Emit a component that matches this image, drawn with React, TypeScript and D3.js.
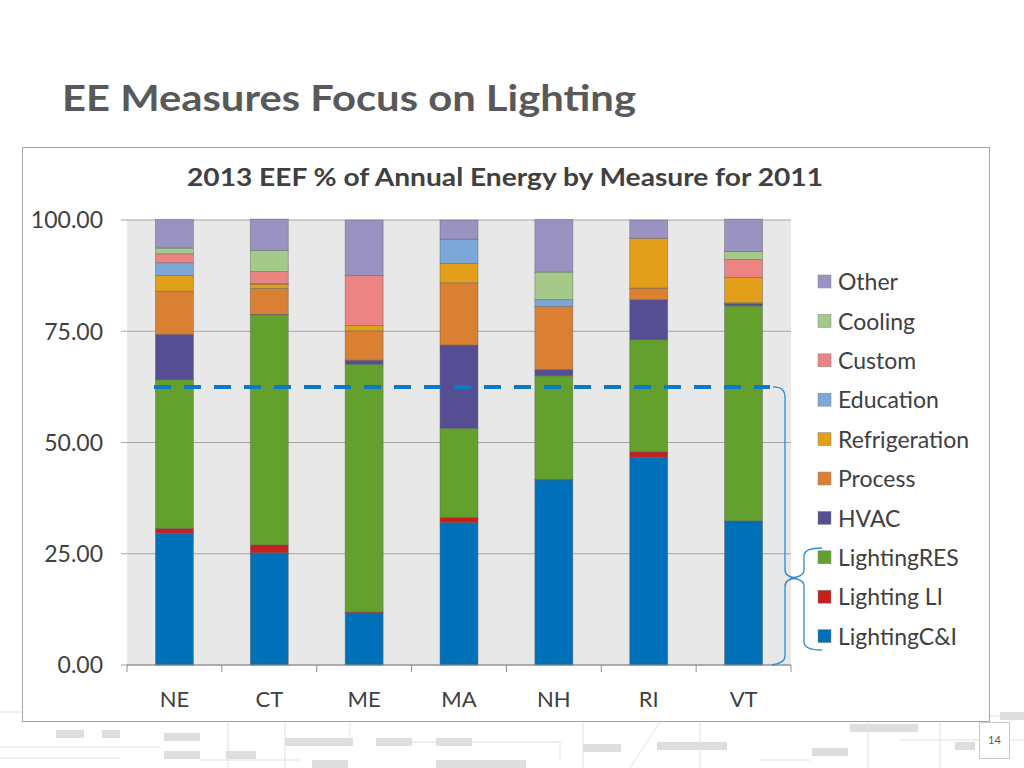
import React from "react";
import { scaleBand, scaleLinear, scaleOrdinal, stack } from "d3";

const regions = ["NE", "CT", "ME", "MA", "NH", "RI", "VT"];
const measures = [
    "LightingC&I",
    "Lighting LI",
    "LightingRES",
    "HVAC",
    "Process",
    "Refrigeration",
    "Education",
    "Custom",
    "Cooling",
    "Other",
];
const measureColors = [
    "#0070b8",
    "#c4201c",
    "#64a02e",
    "#554e92",
    "#da8032",
    "#e19f1a",
    "#7ca7d8",
    "#ec8484",
    "#a4c98a",
    "#9a93c1",
];

// share of annual energy per region, one array per measure
const lightingCI = [29.6, 25.2, 11.7, 32.0, 41.6, 46.7, 32.4];
const lightingLI = [1.1, 1.8, 0.2, 1.2, 0.1, 1.2, 0.0];
const lightingRES = [33.4, 51.7, 55.7, 20.0, 23.3, 25.2, 48.3];
const hvac = [10.2, 0.1, 0.9, 18.7, 1.4, 9.0, 0.5];
const process = [9.7, 5.8, 6.6, 14.0, 14.2, 2.6, 0.2];
const refrigeration = [3.5, 1.0, 1.2, 4.3, 0.0, 11.2, 5.7];
const education = [2.9, 0.1, 0.0, 5.5, 1.5, 0.0, 0.0];
const custom = [2.0, 2.7, 11.2, 0.0, 0.0, 0.0, 4.0];
const cooling = [1.3, 4.8, 0.0, 0.0, 6.2, 0.0, 1.8];
const other = [6.4, 7.0, 12.5, 4.3, 11.8, 4.1, 7.3];

const series = [lightingCI, lightingLI, lightingRES, hvac, process, refrigeration, education, custom, cooling, other];
const yTicks = [0, 25, 50, 75, 100];
const lightingShare = 62.5;

const rows = regions.map((region, i) => {
    const row: Record<string, number | string> = { region };
    measures.forEach((m, j) => (row[m] = series[j][i]));
    return row;
});

const font = "Lato, 'Open Sans', sans-serif";
const textGray = "#404040";

export default function App() {
    const margin = { left: 127, right: 791, top: 220, bottom: 665 };

    const x = scaleBand<string>().domain(regions).range([margin.left, margin.right]).paddingInner(0.6).paddingOuter(0.3);
    const band = scaleBand<string>().domain(regions).range([margin.left, margin.right]);
    const y = scaleLinear().domain([0, 100]).range([margin.bottom, margin.top]);
    const color = scaleOrdinal<string, string>().domain(measures).range(measureColors);

    const layers = stack<Record<string, number | string>>().keys(measures)(rows as any);

    const legendItems = [...measures].reverse();

    return (
        <div style={{ position: "fixed", left: 0, top: 0, width: 1024, height: 768, background: "#fff" }}>
            <svg width={1024} height={768} style={{ display: "block", fontFamily: font }}>
                {/* background circuit decoration */}
                <g fill="#dedede" stroke="none">
                    <rect x={56} y={730} width={28} height={8} />
                    <rect x={102} y={730} width={18} height={8} />
                    <rect x={164} y={733} width={36} height={8} />
                    <rect x={164} y={751} width={36} height={8} />
                    <rect x={226} y={751} width={30} height={8} />
                    <rect x={285} y={738} width={68} height={8} />
                    <rect x={376} y={738} width={36} height={8} />
                    <rect x={436} y={738} width={36} height={8} />
                    <rect x={312} y={760} width={36} height={8} />
                    <rect x={436} y={760} width={90} height={8} />
                    <rect x={583} y={744} width={38} height={8} />
                    <rect x={657} y={742} width={70} height={8} />
                    <rect x={812} y={748} width={36} height={8} />
                    <rect x={850} y={724} width={68} height={8} />
                    <rect x={955} y={742} width={20} height={8} />
                    <rect x={1000} y={712} width={24} height={8} />
                </g>
                <g stroke="#e0e0e0" strokeWidth={1} fill="none">
                    <path d="M0,747 H160 M0,758 H120 M0,712 H22 M200,760 H300 M228,722 V768 M285,722 V768 M350,722 V740 M412,742 H436 M470,742 H560 V760 M583,722 V768 M660,722 L630,768 M700,722 V768 M760,760 H810 M868,722 V768 M900,740 H979 M940,722 V768 M990,716 H1024 M1010,740 H1024" />
                </g>

                {/* page title */}
                <text x={62} y={111} fontSize={37} fontWeight={700} fill="#595959" textLength={574} lengthAdjust="spacingAndGlyphs">
                    EE Measures Focus on Lighting
                </text>

                {/* chart frame */}
                <rect x={22.5} y={147.5} width={967} height={574} fill="#fff" stroke="#a6a6a6" strokeWidth={1} />
                <text x={505} y={186} fontSize={24} fontWeight={700} fill={textGray} textAnchor="middle" textLength={636} lengthAdjust="spacingAndGlyphs">
                    2013 EEF % of Annual Energy by Measure for 2011
                </text>

                {/* plot area */}
                <rect x={margin.left} y={margin.top} width={margin.right - margin.left} height={margin.bottom - margin.top} fill="#e8e8e8" />
                {yTicks.map((t) => (
                    <g key={t}>
                        <line x1={margin.left - 6} x2={margin.right} y1={y(t)} y2={y(t)} stroke="#a6a6a6" strokeWidth={1.2} />
                        <text x={103} y={y(t)} dy="0.36em" fontSize={23} fill={textGray} textAnchor="end">
                            {t.toFixed(2)}
                        </text>
                    </g>
                ))}

                {/* stacked bars */}
                {layers.map((layer) => (
                    <g key={layer.key} fill={color(layer.key)} stroke="#5f5f5f" strokeOpacity={0.55} strokeWidth={0.8}>
                        {layer.map((d, i) =>
                            d[1] - d[0] > 0 ? (
                                <rect
                                    key={i}
                                    x={x(regions[i])}
                                    y={y(d[1])}
                                    width={x.bandwidth()}
                                    height={y(d[0]) - y(d[1])}
                                />
                            ) : null
                        )}
                    </g>
                ))}

                {/* x axis */}
                <line x1={margin.left} x2={margin.right} y1={margin.bottom} y2={margin.bottom} stroke="#8c8c8c" strokeWidth={1.2} />
                {regions.map((r) => (
                    <g key={r}>
                        <line
                            x1={(band(r) ?? 0) + band.bandwidth()}
                            x2={(band(r) ?? 0) + band.bandwidth()}
                            y1={margin.bottom}
                            y2={margin.bottom + 7}
                            stroke="#8c8c8c"
                        />
                        <text x={(x(r) ?? 0) + x.bandwidth() / 2} y={707} fontSize={22} fill={textGray} textAnchor="middle">
                            {r}
                        </text>
                    </g>
                ))}
                <line x1={margin.left} x2={margin.left} y1={margin.bottom} y2={margin.bottom + 7} stroke="#8c8c8c" />

                {/* lighting share marker */}
                <line
                    x1={154}
                    x2={770}
                    y1={y(lightingShare)}
                    y2={y(lightingShare)}
                    stroke="#0a7ac8"
                    strokeWidth={4}
                    strokeDasharray="17,13"
                />

                {/* braces */}
                <g fill="none" stroke="#2e8bd4" strokeWidth={1.3}>
                    <path d={`M773,${y(lightingShare)} Q785,${y(lightingShare)} 785,${y(lightingShare) + 10} V570 Q785,577 797,578 Q785,579 785,586 V656 Q785,663 772,665`} />
                    <path d="M822,548 Q804,548 804,556 V570 Q804,577 790,578 Q804,579 804,586 V642 Q804,650 822,650" />
                </g>

                {/* legend */}
                {legendItems.map((m, i) => (
                    <g key={m} transform={`translate(818,${282 + i * 39.4})`}>
                        <rect x={0} y={-7} width={13} height={13} fill={color(m)} stroke="#888" strokeWidth={0.5} />
                        <text x={20} y={0} dy="0.36em" fontSize={23} fill={textGray}>
                            {m}
                        </text>
                    </g>
                ))}

                {/* page number */}
                <rect x={979.5} y={722.5} width={30} height={36} fill="#fff" stroke="#c8c8c8" />
                <text x={994.5} y={744} fontSize={11} fill="#595959" textAnchor="middle">14</text>
            </svg>
        </div>
    );
}
